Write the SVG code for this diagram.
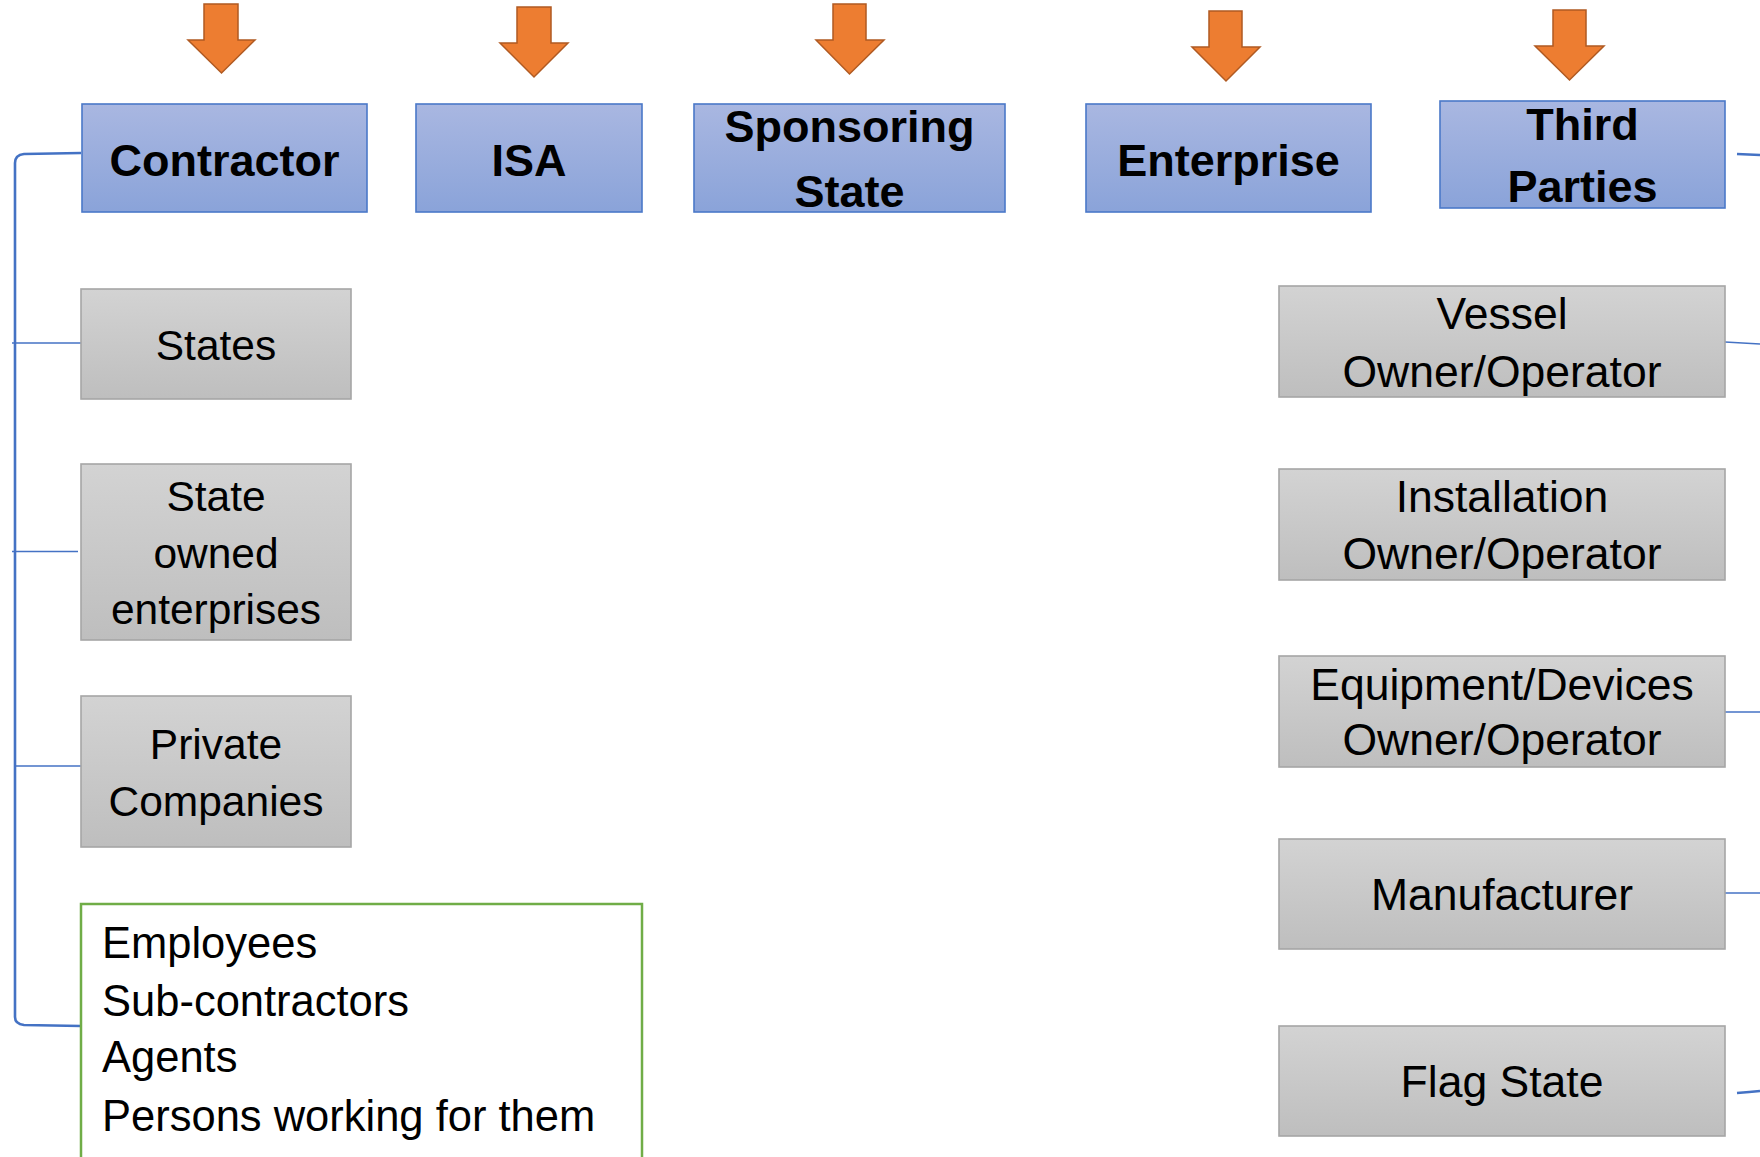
<svg xmlns="http://www.w3.org/2000/svg" width="1760" height="1157" viewBox="0 0 1760 1157">
<defs>
<linearGradient id="gBlue" x1="0" y1="0" x2="0" y2="1">
<stop offset="0" stop-color="#A9B7E1"/>
<stop offset="1" stop-color="#8AA3D9"/>
</linearGradient>
<linearGradient id="gGray" x1="0" y1="0" x2="0" y2="1">
<stop offset="0" stop-color="#D3D3D3"/>
<stop offset="1" stop-color="#BEBEBE"/>
</linearGradient>
<style>
.blue{fill:url(#gBlue);stroke:#4A78C8;stroke-width:1.6}
.gray{fill:url(#gGray);stroke:#A6A6A6;stroke-width:1.6}
.green{fill:#FFFFFF;stroke:#70AD47;stroke-width:2.5}
.arrow{fill:#ED7D31;stroke:#B05A22;stroke-width:1.5;stroke-linejoin:miter}
.h{font-family:"Liberation Sans",Arial,sans-serif;font-weight:bold;font-size:45px;fill:#000;text-anchor:middle}
.t{font-family:"Liberation Sans",Arial,sans-serif;font-size:42.5px;fill:#000;text-anchor:middle}
.tr{font-family:"Liberation Sans",Arial,sans-serif;font-size:44.5px;fill:#000;text-anchor:middle}
.tg{font-family:"Liberation Sans",Arial,sans-serif;font-size:43.5px;fill:#000}
.c{fill:none;stroke:#4472C4;stroke-width:1.5}
.ck{fill:none;stroke:#4472C4;stroke-width:2.6}
</style>
</defs>
<rect width="1760" height="1157" fill="#FFFFFF"/>

<g id="connectors">
<path class="ck" d="M81,153 L24,154 Q15,155 15,163 L15,1017 Q15,1024 24,1025 L81,1026"/>
<path class="c" d="M12,343 L82,343"/>
<path class="c" d="M12,551.5 L78,551.5"/>
<path class="c" d="M14,766 L81,766"/>
<path class="ck" d="M1737,154 L1760,155"/>
<path class="c" d="M1725,342 L1760,344"/>
<path class="c" d="M1725,712 L1760,712"/>
<path class="c" d="M1725,893 L1760,893"/>
<path class="ck" d="M1737,1093 Q1750,1092 1760,1091"/>
</g>

<g id="arrows">
<polygon class="arrow" points="204,4 238,4 238,40 255,40 221.5,73 188,40 204,40"/>
<polygon class="arrow" points="517,7 551,7 551,43 568,43 534,77 500,43 517,43"/>
<polygon class="arrow" points="833,4 866,4 866,40 884,40 849.5,74 816,40 833,40"/>
<polygon class="arrow" points="1209,11 1242,11 1242,47 1260,47 1226,81 1192,47 1209,47"/>
<polygon class="arrow" points="1553,10 1586,10 1586,46 1604,46 1569.5,80 1535,46 1553,46"/>
</g>

<g id="contractor">
<rect class="blue" x="82" y="104" width="285" height="108"/>
<text class="h" x="224.5" y="176">Contractor</text>
</g>
<g id="isa">
<rect class="blue" x="416" y="104" width="226" height="108"/>
<text class="h" x="529" y="176">ISA</text>
</g>
<g id="sponsoring-state">
<rect class="blue" x="694" y="104" width="311" height="108"/>
<text class="h" x="849.5" y="142">Sponsoring</text>
<text class="h" x="849.5" y="207">State</text>
</g>
<g id="enterprise">
<rect class="blue" x="1086" y="104" width="285" height="108"/>
<text class="h" x="1228.5" y="176">Enterprise</text>
</g>
<g id="third-parties">
<rect class="blue" x="1440" y="101" width="285" height="107"/>
<text class="h" x="1582.5" y="140">Third</text>
<text class="h" x="1582.5" y="202">Parties</text>
</g>

<g id="states">
<rect class="gray" x="81" y="289" width="270" height="110"/>
<text class="t" x="216" y="360">States</text>
</g>
<g id="state-owned-enterprises">
<rect class="gray" x="81" y="464" width="270" height="176"/>
<text class="t" x="216" y="511">State</text>
<text class="t" x="216" y="568">owned</text>
<text class="t" x="216" y="624">enterprises</text>
</g>
<g id="private-companies">
<rect class="gray" x="81" y="696" width="270" height="151"/>
<text class="t" x="216" y="759">Private</text>
<text class="t" x="216" y="816">Companies</text>
</g>
<g id="persons">
<rect class="green" x="81" y="904" width="561" height="280"/>
<text class="tg" x="102" y="958">Employees</text>
<text class="tg" x="102" y="1016">Sub-contractors</text>
<text class="tg" x="102" y="1072">Agents</text>
<text class="tg" x="102" y="1131">Persons working for them</text>
</g>

<g id="vessel">
<rect class="gray" x="1279" y="286" width="446" height="111"/>
<text class="tr" x="1502" y="329">Vessel</text>
<text class="tr" x="1502" y="387">Owner/Operator</text>
</g>
<g id="installation">
<rect class="gray" x="1279" y="469" width="446" height="111"/>
<text class="tr" x="1502" y="512">Installation</text>
<text class="tr" x="1502" y="569">Owner/Operator</text>
</g>
<g id="equipment">
<rect class="gray" x="1279" y="656" width="446" height="111"/>
<text class="tr" x="1502" y="700">Equipment/Devices</text>
<text class="tr" x="1502" y="755">Owner/Operator</text>
</g>
<g id="manufacturer">
<rect class="gray" x="1279" y="839" width="446" height="110"/>
<text class="tr" x="1502" y="910">Manufacturer</text>
</g>
<g id="flag-state">
<rect class="gray" x="1279" y="1026" width="446" height="110"/>
<text class="tr" x="1502" y="1097">Flag State</text>
</g>
</svg>
